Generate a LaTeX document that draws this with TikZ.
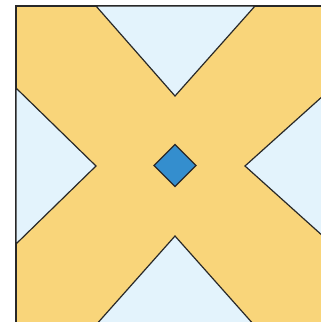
\documentclass[tikz,border=0pt]{standalone}
\definecolor{xyellow}{RGB}{249,213,122}
\definecolor{xblue}{RGB}{227,243,252}
\definecolor{xdiamond}{RGB}{52,142,206}
\definecolor{xline}{RGB}{40,40,40}
\tikzset{
  outline/.style={draw=xline, line width=1.2pt, line join=miter},
  band/.style={outline, fill=xyellow},
  gap/.style={outline, fill=xblue},
  gem/.style={outline, fill=xdiamond}
}
\begin{document}
\begin{tikzpicture}[x=1pt, y=-1pt]
\useasboundingbox (0,0) rectangle (321,322);
\clip (0,0) rectangle (321,322);
% square
\draw[band] (16,6) rectangle (334,326);
% triangles
\coordinate (tA) at (96,6);   \coordinate (tB) at (175,96);  \coordinate (tC) at (255,6);
\coordinate (lA) at (16,88);  \coordinate (lB) at (96,166);  \coordinate (lC) at (16,244);
\coordinate (rA) at (334,86); \coordinate (rB) at (245,166); \coordinate (rC) at (334,246);
\coordinate (bA) at (95,326); \coordinate (bB) at (175,236); \coordinate (bC) at (255,326);
\draw[gap] (tA) -- (tB) -- (tC) -- cycle;
\draw[gap] (lA) -- (lB) -- (lC) -- cycle;
\draw[gap] (rA) -- (rB) -- (rC) -- cycle;
\draw[gap] (bA) -- (bB) -- (bC) -- cycle;
% diamond
\coordinate (c) at (175,165.5);
\draw[gem] ([xshift=-21pt]c) -- ([yshift=-21pt]c) -- ([xshift=21pt]c) -- ([yshift=21pt]c) -- cycle;
\end{tikzpicture}
\end{document}
